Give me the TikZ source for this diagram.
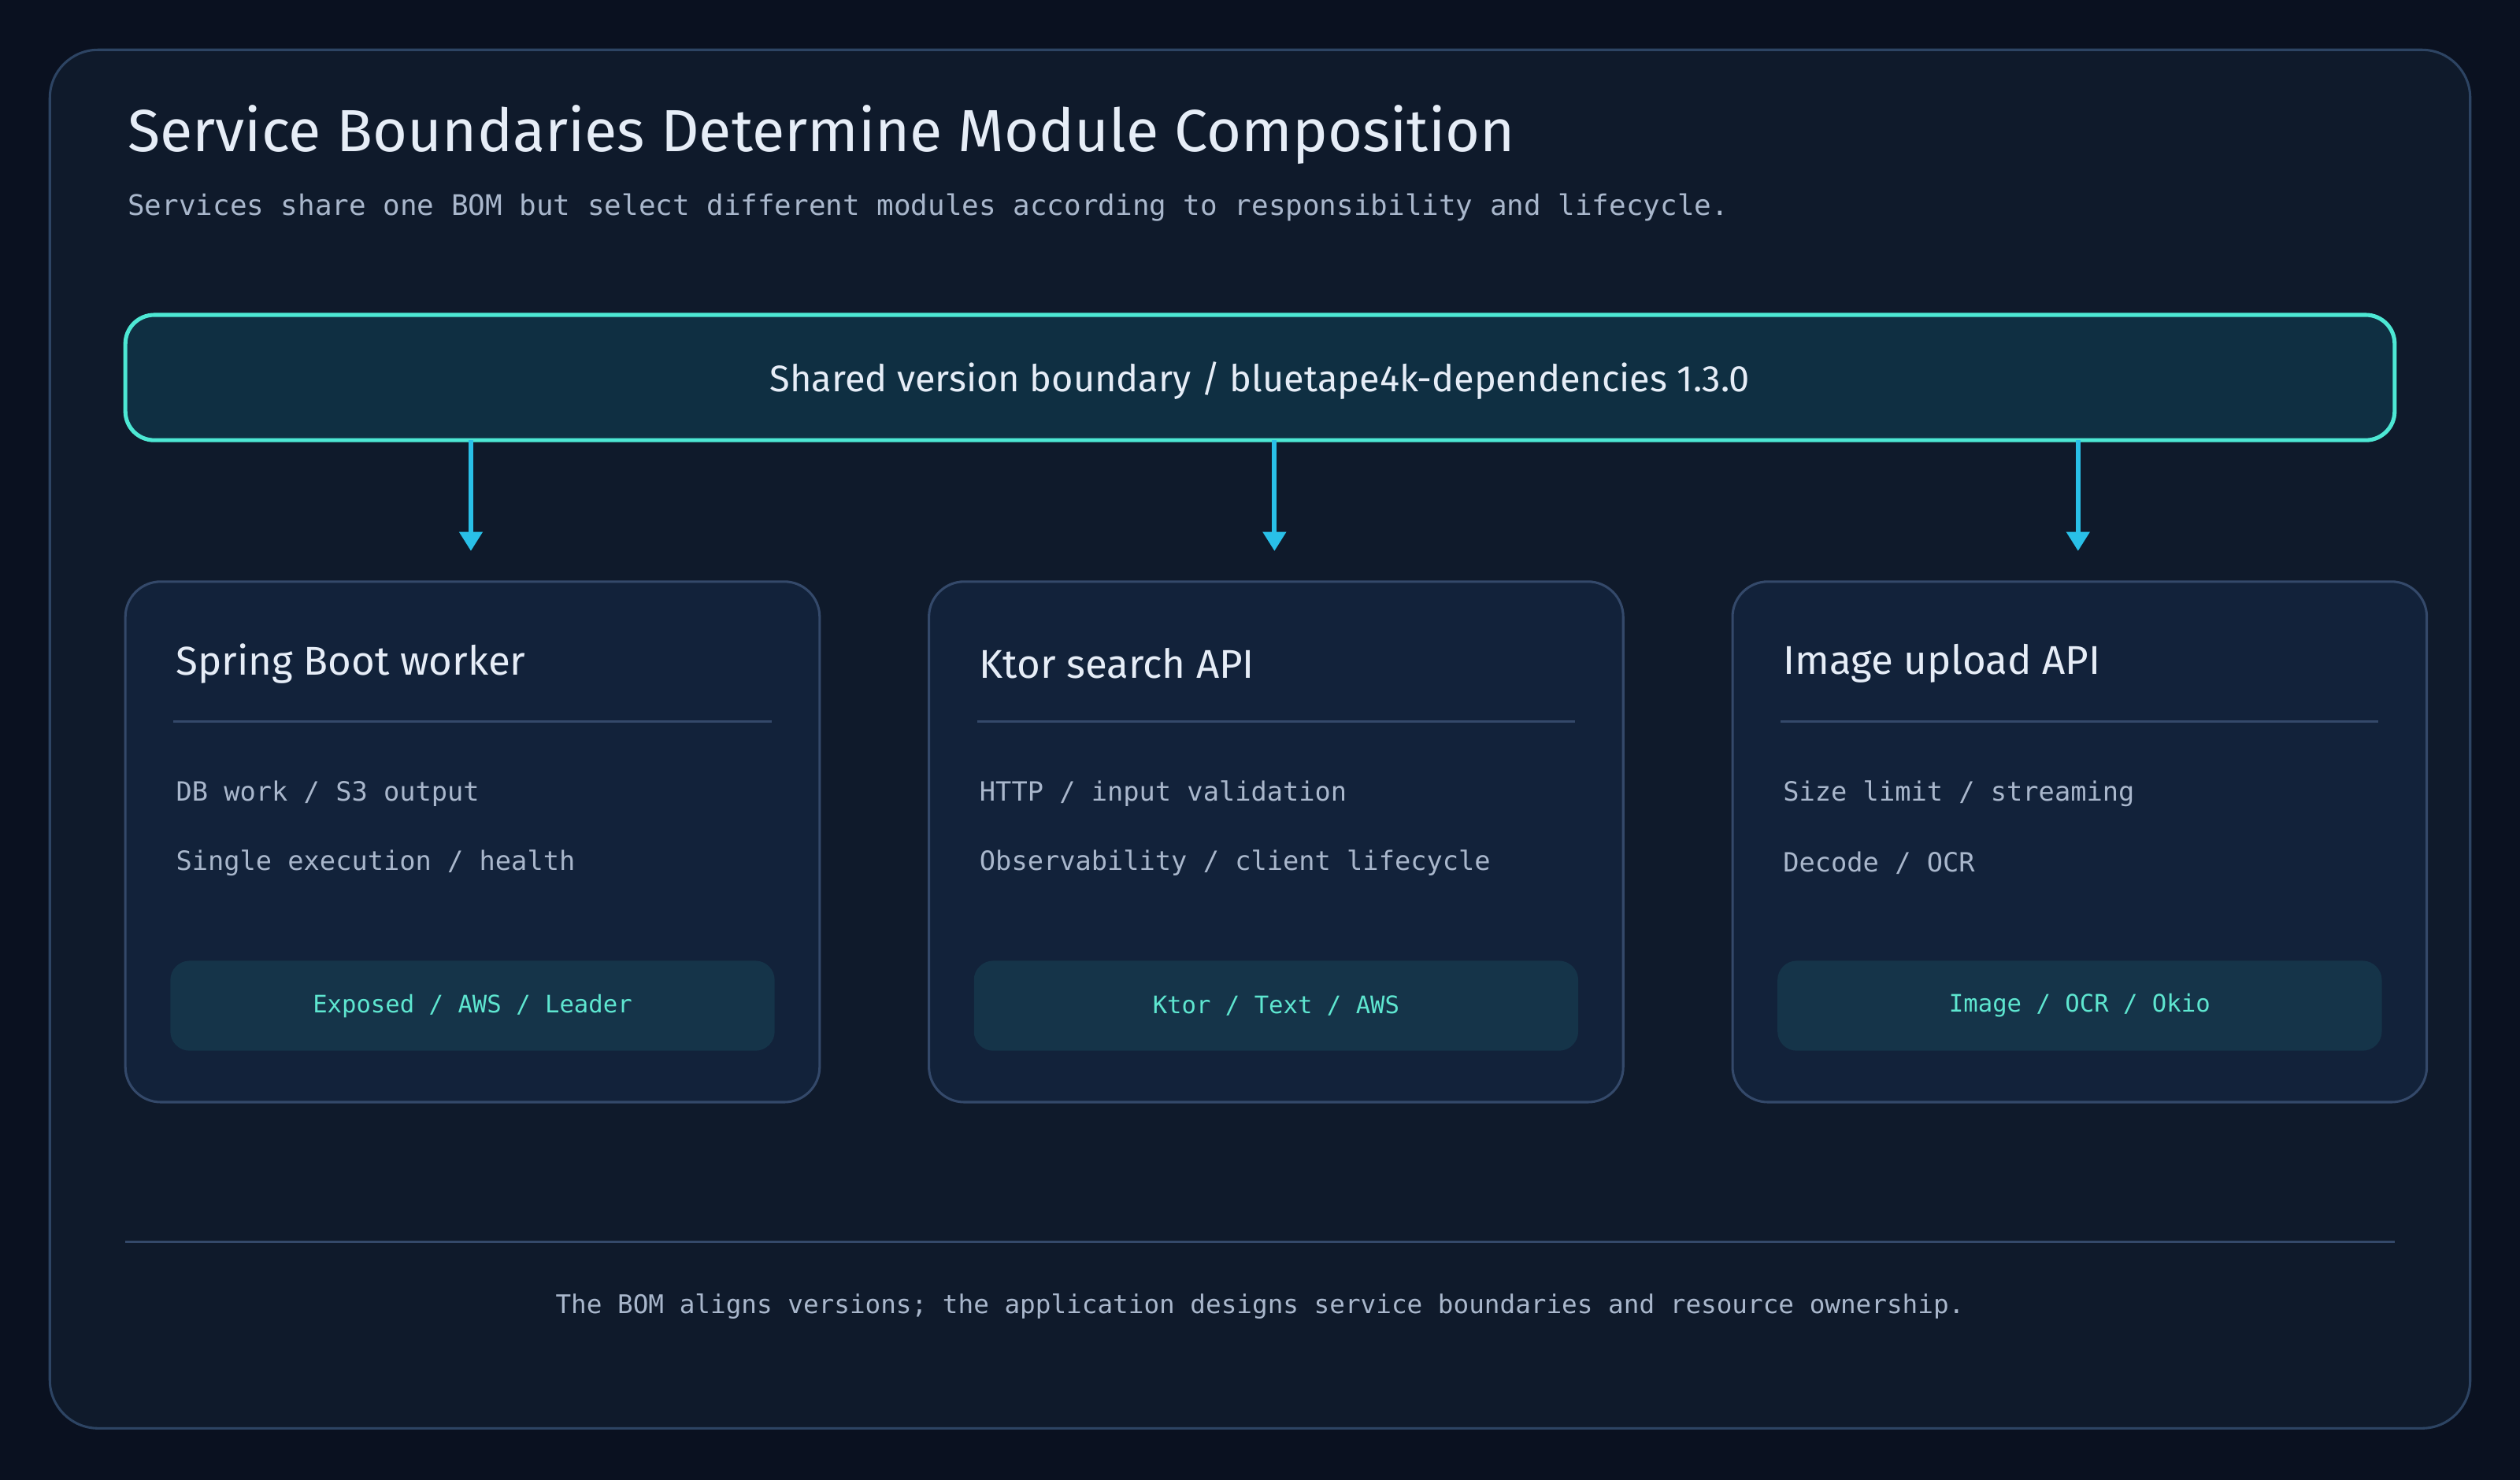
\documentclass[tikz,border=0pt]{standalone}
\usepackage{fontspec}
\setmainfont{Fira Sans}
\newfontfamily\monof{DejaVu Sans Mono}
\usetikzlibrary{arrows.meta}
\definecolor{bgout}{HTML}{0A1120}
\definecolor{panel}{HTML}{0F1A2B}
\definecolor{pborder}{HTML}{2D4463}
\definecolor{banfill}{HTML}{0F2F42}
\definecolor{teal}{HTML}{4DE8D4}
\definecolor{arrowc}{HTML}{29C0E8}
\definecolor{cardf}{HTML}{12223A}
\definecolor{cardb}{HTML}{34496A}
\definecolor{chipf}{HTML}{153449}
\definecolor{chipt}{HTML}{5EE6D0}
\definecolor{light}{HTML}{E6EDF7}
\definecolor{gray}{HTML}{A9B7CC}
\tikzset{
 card/.style={draw=cardb,fill=cardf,line width=1.5pt,rounded corners=22pt},
 chip/.style={fill=chipf,rounded corners=12pt,minimum width=376pt,minimum height=56pt,text=chipt,font=\monof\fontsize{15}{18}\selectfont},
 ctitle/.style={anchor=west,text=light,font=\fontsize{25}{30}\selectfont},
 ctext/.style={anchor=west,text=gray,font=\monof\fontsize{16.5}{20}\selectfont},
 arr/.style={draw=arrowc,line width=3pt,-{Triangle[length=12pt,width=14pt]}},
}
\begin{document}
\begin{tikzpicture}[x=1pt,y=-1pt]
\fill[bgout] (0,0) rectangle (1568,921);
\useasboundingbox (0,0) rectangle (1568,921);
\draw[pborder,fill=panel,line width=1.5pt,rounded corners=30pt] (31,31) rectangle (1537,889);
\node[anchor=west,text=light,font=\fontsize{37}{42}\selectfont] (title) at (76,84) {Service Boundaries Determine Module Composition};
\node[anchor=west,text=gray,font=\monof\fontsize{17.6}{22}\selectfont] (sub) at (76,129) {Services share one BOM but select different modules according to responsibility and lifecycle.};
\draw[teal,fill=banfill,line width=2.5pt,rounded corners=18pt] (78,196) rectangle (1490,274);
\node[text=light,font=\fontsize{23}{28}\selectfont] (banner) at (784,237) {Shared version boundary / bluetape4k-dependencies 1.3.0};
\foreach \i/\x/\t/\a/\b/\c in {1/78/{Spring Boot worker}/{DB work / S3 output}/{Single execution / health}/{Exposed / AWS / Leader},
 2/578/{Ktor search API}/{HTTP / input validation}/{Observability / client lifecycle}/{Ktor / Text / AWS},
 3/1078/{Image upload API}/{Size limit / streaming}/{Decode / OCR}/{Image / OCR / Okio}}{
 \coordinate (s\i) at (\x+215,274);
 \coordinate (e\i) at (\x+215,343);
 \draw[arr] (s\i) -- (e\i);
 \draw[card] (\x,362) rectangle (\x+432,686);
 \node[ctitle] (t\i) at (\x+28,413) {\t};
 \draw[cardb,line width=1.5pt] (\x+30,449) -- (\x+402,449);
 \node[ctext] (a\i) at (\x+28,494) {\a};
 \node[ctext] (b\i) at (\x+28,537) {\b};
 \node[chip] (c\i) at (\x+216,626) {\c};
}
\draw[cardb,line width=1.5pt] (78,773) -- (1490,773);
\node[text=gray,font=\monof\fontsize{16}{20}\selectfont] (foot) at (784,813) {The BOM aligns versions; the application designs service boundaries and resource ownership.};
\end{tikzpicture}
\end{document}
